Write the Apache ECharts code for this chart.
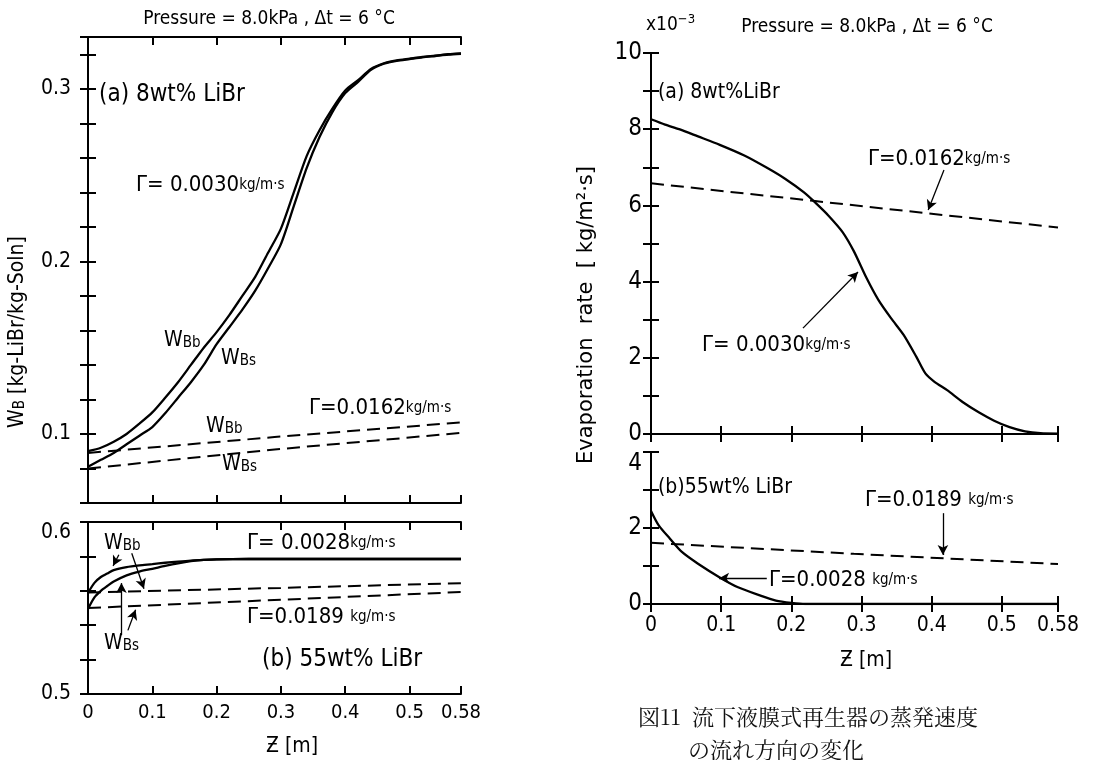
<!DOCTYPE html>
<html><head><meta charset="utf-8">
<script src="https://cdn.jsdelivr.net/npm/echarts@6/dist/echarts.min.js"></script>
<style>html,body{margin:0;padding:0;background:#fff}#c{width:1116px;height:760px}</style>
</head><body><div id="c"></div>
<script>
// ---------- DATA ----------
// Left (a): 8wt% LiBr, Gamma = 0.0030 kg/m.s, mass fraction W_B
const zA8 = [0,0.02,0.04,0.06,0.08,0.10,0.12,0.14,0.16,0.18,0.20,0.22,0.24,0.26,0.28,0.30,0.32,0.34,0.36,0.38,0.40,0.42,0.44,0.46,0.48,0.50,0.52,0.54,0.56,0.58];
const wbbA8 = [0.090,0.092,0.0955,0.100,0.106,0.1125,0.121,0.130,0.140,0.150,0.159,0.169,0.180,0.191,0.205,0.219,0.240,0.261,0.276,0.2885,0.299,0.305,0.3115,0.3148,0.3165,0.3175,0.3185,0.3192,0.3200,0.3205];
const wbsA8 = [0.081,0.085,0.089,0.094,0.099,0.104,0.112,0.121,0.130,0.140,0.152,0.162,0.172,0.183,0.196,0.210,0.232,0.254,0.272,0.2865,0.2975,0.304,0.311,0.3145,0.3162,0.3172,0.3182,0.3190,0.3198,0.3203];
// Left (a): Gamma = 0.0162 kg/m.s (dashed)
const zLin = [0,0.29,0.58];
const wbbA8d = [0.089,0.0982,0.1067];
const wbsA8d = [0.080,0.0910,0.1006];
// Left (b): 55wt% LiBr, Gamma = 0.0028 (solid)
const zB55 = [0,0.01,0.02,0.03,0.04,0.06,0.08,0.10,0.12,0.14,0.16,0.18,0.20,0.25,0.30,0.40,0.50,0.58];
const wbbB55 = [0.5588,0.5646,0.568,0.570,0.572,0.5738,0.5748,0.5755,0.5763,0.5770,0.5776,0.5780,0.5783,0.5785,0.5785,0.5785,0.5785,0.5785];
const wbsB55 = [0.5495,0.5562,0.560,0.5628,0.5654,0.569,0.5712,0.5728,0.5745,0.5760,0.5772,0.5780,0.5783,0.5785,0.5785,0.5785,0.5785,0.5785];
// Left (b): Gamma = 0.0189 (dashed)
const zLinB = [0,0.30,0.58];
const wbbB55d = [0.5590,0.5617,0.5644];
const wbsB55d = [0.5500,0.5548,0.5593];
// Right (a): evaporation rate x1e-3, Gamma = 0.0030 (solid)
const zEvA = [0,0.02,0.04,0.067,0.098,0.133,0.164,0.191,0.218,0.236,0.253,0.273,0.289,0.307,0.324,0.342,0.360,0.378,0.391,0.404,0.422,0.444,0.467,0.489,0.511,0.533,0.555,0.58];
const evA03 = [8.26,8.12,8.00,7.81,7.59,7.31,7.00,6.70,6.34,6.04,5.73,5.30,4.80,4.10,3.52,3.04,2.60,2.03,1.59,1.37,1.15,0.84,0.57,0.35,0.18,0.07,0.02,0.01];
// Right (a): Gamma = 0.0162 (dashed)
const zEvAd = [0,0.231,0.58];
const evA162 = [6.58,6.12,5.42];
// Right (b): Gamma = 0.0028 (solid)
const zEvB = [0,0.011,0.027,0.044,0.067,0.098,0.124,0.156,0.178,0.20,0.22,0.30,0.58];
const evB028 = [2.45,2.07,1.72,1.37,1.06,0.70,0.44,0.22,0.09,0.03,0.0,0.0,0.0];
// Right (b): Gamma = 0.0189 (dashed)
const zEvBd = [0,0.289,0.58];
const evB189 = [1.61,1.32,1.05];
// tick labels
const xTickLabels = ['0','0.1','0.2','0.3','0.4','0.5','0.58'];
const leftATickLabels = ['0.1','0.2','0.3'];
const leftBTickLabels = ['0.5','0.6'];
const rightATickLabels = ['0','2','4','6','8','10'];
const rightBTickLabels = ['0','2','4'];
// arrows (data coordinates: [z, value])
const arrowsLeftB = [[[0.048,0.5810],[0.039,0.5745]],[[0.068,0.5818],[0.087,0.5612]],[[0.052,0.5342],[0.052,0.5645]],[[0.062,0.5370],[0.074,0.5490]]];
const arrowsRightA = [[[0.4175,6.93],[0.395,5.88]],[[0.2166,2.78],[0.295,4.25]]];
const arrowsRightB = [[[0.416,2.39],[0.416,1.29]],[[0.165,0.68],[0.097,0.68]]];

// ---------- CHART ----------
const F = "'DejaVu Sans Condensed','DejaVu Sans',sans-serif";
const pairs = (xs, ys) => xs.map((x, i) => [x, ys[i]]);
const fmtFromList = list => v => {
  for (const s of list) if (Math.abs(parseFloat(s) - v) < 1e-6) return s;
  return '';
};
const grids = [
  {left: 88, top: 37, width: 373, height: 466},
  {left: 88, top: 522, width: 373, height: 172},
  {left: 651, top: 53, width: 407, height: 381},
  {left: 651, top: 452, width: 407, height: 152}
];
const line = {lineStyle: {color: '#000', width: 2}};
const tick = {inside: true, length: 8, lineStyle: {color: '#000', width: 2}};
const xAxes = [], yAxes = [];
function addX(g, showLabel, fs, margin) {
  xAxes.push({type: 'value', gridIndex: g, position: 'bottom', min: 0, max: 0.58, interval: 0.1,
    axisLine: line, axisTick: tick, splitLine: {show: false},
    axisLabel: {show: showLabel, color: '#000', fontSize: fs, fontFamily: F, margin: margin,
      showMinLabel: true, showMaxLabel: true, formatter: fmtFromList(xTickLabels)}});
  xAxes.push({type: 'value', gridIndex: g, position: 'top', min: 0, max: 0.58, interval: 0.1,
    axisLine: line, axisTick: tick, splitLine: {show: false}, axisLabel: {show: false}});
}
function addY(g, min, max, interval, labels, fs, margin, extra) {
  yAxes.push(Object.assign({type: 'value', gridIndex: g, position: 'left', min, max, interval,
    axisLine: line, axisTick: tick, splitLine: {show: false},
    axisLabel: Object.assign({color: '#000', fontSize: fs, fontFamily: F, margin: margin,
      showMinLabel: true, showMaxLabel: true, formatter: fmtFromList(labels)}, extra || {})}));
  yAxes.push({type: 'value', gridIndex: g, position: 'right', min, max, interval,
    axisLine: line, axisTick: tick, splitLine: {show: false}, axisLabel: {show: false}});
}
addX(0, false, 20, 9); addX(1, true, 20, 9); addX(2, false, 21, 11); addX(3, true, 21, 11);
addY(0, 0.06, 0.33, 0.02, leftATickLabels, 21, 17);
addY(1, 0.5, 0.6, 0.02, leftBTickLabels, 21, 17, {verticalAlignMaxLabel: 'top'});
addY(2, 0, 10, 1, rightATickLabels, 24, 9);
addY(3, 0, 4, 1, rightBTickLabels, 24, 9, {verticalAlignMaxLabel: 'top'});

function ser(g, data, dashed, smooth, arrows) {
  const s = {type: 'line', xAxisIndex: g * 2, yAxisIndex: g * 2, data, showSymbol: false,
    smooth: smooth ? 0.25 : false, animation: false, silent: true,
    lineStyle: {color: '#000', width: dashed ? 2 : 2.3, type: dashed ? [13, 7] : 'solid'}};
  if (arrows) s.markLine = {silent: true, animation: false, symbol: ['none', 'arrow'], symbolSize: [8, 10],
    label: {show: false}, lineStyle: {color: '#000', width: 1.3, type: 'solid'},
    data: arrows.map(a => [{coord: a[0]}, {coord: a[1]}])};
  return s;
}
const series = [
  ser(0, pairs(zA8, wbbA8), false, true),
  ser(0, pairs(zA8, wbsA8), false, true),
  ser(0, pairs(zLin, wbbA8d), true, false),
  ser(0, pairs(zLin, wbsA8d), true, false),
  ser(1, pairs(zB55, wbbB55), false, true, arrowsLeftB),
  ser(1, pairs(zB55, wbsB55), false, true),
  ser(1, pairs(zLinB, wbbB55d), true, false),
  ser(1, pairs(zLinB, wbsB55d), true, false),
  ser(2, pairs(zEvA, evA03), false, true, arrowsRightA),
  ser(2, pairs(zEvAd, evA162), true, false),
  ser(3, pairs(zEvB, evB028), false, true, arrowsRightB),
  ser(3, pairs(zEvBd, evB189), true, false)
];

// text annotations
const rich = {
  g: {fontSize: 22, fontFamily: F, fill: '#000'},
  u: {fontSize: 15, fontFamily: F, fill: '#000'},
  w: {fontSize: 21, fontFamily: F, fill: '#000'},
  s: {fontSize: 15, fontFamily: F, fill: '#000', padding: [5, 0, 0, 0]},
  t: {fontSize: 24, fontFamily: F, fill: '#000'},
  sup: {fontSize: 13, fontFamily: F, fill: '#000', padding: [0, 0, 10, 0]},
  m: {fontSize: 19, fontFamily: F, fill: '#000'},
  a: {fontSize: 21, fontFamily: F, fill: '#000'}
};
function txt(x, y, text, align, extra) {
  return Object.assign({type: 'text', x, y, silent: true,
    style: {text, rich, fill: '#000', fontFamily: F, fontSize: 18, align: align || 'left', verticalAlign: 'middle'}}, extra || {});
}
const graphics = [
  // titles
  txt(269, 19, '{m|Pressure = 8.0kPa , Δt = 6 °C}', 'center'),
  txt(867, 27, '{m|Pressure = 8.0kPa , Δt = 6 °C}', 'center'),
  txt(646, 25, '{m|x10}{sup|−3}', 'left'),
  // left (a)
  txt(99, 95, '{t|(a) 8wt% LiBr}'),
  txt(136, 185, '{g|Γ= 0.0030}{u|kg/m·s}'),
  txt(164, 341, '{w|W}{s|Bb}'),
  txt(221, 359, '{w|W}{s|Bs}'),
  txt(309, 408, '{g|Γ=0.0162}{u|kg/m·s}'),
  txt(206, 427, '{w|W}{s|Bb}'),
  txt(222, 465, '{w|W}{s|Bs}'),
  // left (b)
  txt(104, 544, '{w|W}{s|Bb}'),
  txt(247, 543, '{g|Γ= 0.0028}{u|kg/m·s}'),
  txt(247, 617, '{g|Γ=0.0189 }{u|kg/m·s}'),
  txt(104, 644, '{w|W}{s|Bs}'),
  txt(262, 660, '{t|(b) 55wt% LiBr}'),
  // right (a)
  txt(658, 93, '{a|(a) 8wt%LiBr}'),
  txt(868, 159, '{g|Γ=0.0162}{u|kg/m·s}'),
  txt(702, 345, '{g|Γ= 0.0030}{u|kg/m·s}'),
  // right (b)
  txt(658, 488, '{a|(b)55wt% LiBr}'),
  txt(865, 500, '{g|Γ=0.0189 }{u|kg/m·s}'),
  txt(769, 580, '{g|Γ=0.0028 }{u|kg/m·s}'),
  // axis titles
  txt(292, 747, '{a|Ƶ [m]}', 'center'),
  txt(866, 661, '{a|Ƶ [m]}', 'center'),
  txt(18, 332, '{w|W}{s|B}{a| [kg-LiBr/kg-Soln]}', 'center', {rotation: Math.PI / 2}),
  {type: 'text', x: 587, y: 315, rotation: Math.PI / 2, silent: true,
    style: {text: 'Evaporation  rate  [ kg/m²·s]', fill: '#000', fontFamily: "'DejaVu Sans',sans-serif", fontSize: 21, align: 'center', verticalAlign: 'middle'}},
  // caption
  {type: 'text', x: 638, y: 717, silent: true,
    style: {text: '図11  流下液膜式再生器の蒸発速度', fill: '#111', fontFamily: "'Noto Serif CJK JP','Noto Sans CJK JP',sans-serif", fontSize: 22, align: 'left', verticalAlign: 'middle'}},
  {type: 'text', x: 688, y: 750, silent: true,
    style: {text: 'の流れ方向の変化', fill: '#111', fontFamily: "'Noto Serif CJK JP','Noto Sans CJK JP',sans-serif", fontSize: 22, align: 'left', verticalAlign: 'middle'}}
];

const chart = echarts.init(document.getElementById('c'), null, {renderer: 'canvas'});
chart.setOption({
  backgroundColor: '#fff',
  animation: false,
  grid: grids,
  xAxis: xAxes,
  yAxis: yAxes,
  series,
  graphic: graphics
});
</script>
</body></html>
